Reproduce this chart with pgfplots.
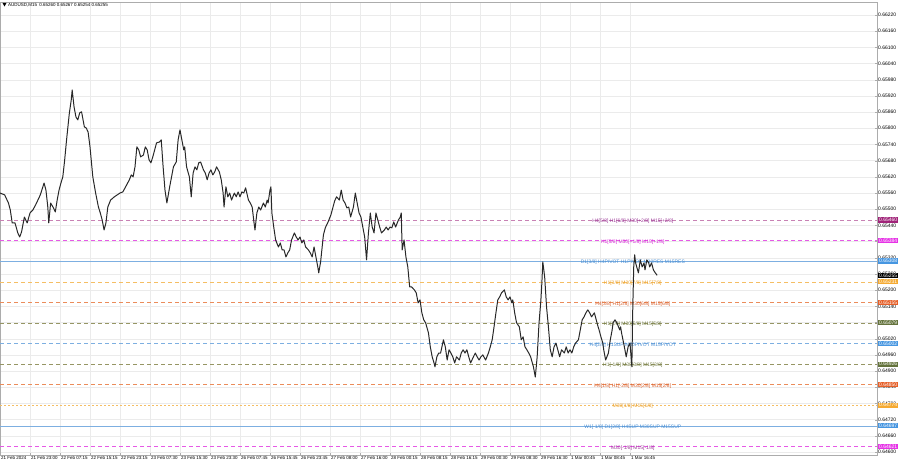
\documentclass[border=0pt]{standalone}
\usepackage{pgfplots}
\pgfplotsset{compat=1.18}
\usepackage{fontspec}
\setmainfont{Liberation Sans}

\definecolor{pricecol}{RGB}{40,40,40}
\definecolor{purpLine}{RGB}{200,130,180}
\definecolor{purpText}{RGB}{155,55,150}
\definecolor{purpBox}{RGB}{160,35,120}
\definecolor{magLine}{RGB}{230,90,230}
\definecolor{magText}{RGB}{215,40,215}
\definecolor{magBox}{RGB}{230,50,230}
\definecolor{bluLine}{RGB}{125,175,225}
\definecolor{bluText}{RGB}{70,140,210}
\definecolor{bluBox}{RGB}{70,150,225}
\definecolor{oraLine}{RGB}{245,190,100}
\definecolor{oraText}{RGB}{235,160,40}
\definecolor{oraBox}{RGB}{245,170,50}
\definecolor{redLine}{RGB}{235,140,90}
\definecolor{redText}{RGB}{215,95,45}
\definecolor{redBox}{RGB}{230,95,40}
\definecolor{oliLine}{RGB}{150,150,100}
\definecolor{oliText}{RGB}{110,120,60}
\definecolor{oliBox}{RGB}{100,115,60}

\newcommand{\lblfont}{\fontsize{5}{6}\selectfont}
\newcommand{\smlfont}{\fontsize{4.5}{5.5}\selectfont}

\begin{document}
\begin{tikzpicture}[x=1bp,y=1bp]
\begin{axis}[
  scale only axis, width=877bp, height=453bp,
  xmin=0, xmax=935.5, ymin=0.64589, ymax=0.66268,
  clip=false,
  axis line style={gray!65, line width=0.6pt},
  tick style={gray!65}, major tick length=2bp,
  xtick={0,32,...,672},
  xticklabels={21 Feb 2024, 21 Feb 23:00, 22 Feb 07:15, 22 Feb 15:15, 22 Feb 23:15, 23 Feb 07:30, 23 Feb 15:30, 23 Feb 23:30, 26 Feb 07:45, 26 Feb 15:45, 26 Feb 23:45, 27 Feb 08:00, 27 Feb 16:00, 28 Feb 00:15, 28 Feb 08:15, 28 Feb 16:15, 29 Feb 00:30, 29 Feb 08:30, 29 Feb 16:30, 1 Mar 00:45, 1 Mar 08:45, 1 Mar 16:45},
  xticklabel style={anchor=north west, font=\smlfont, inner sep=0.5bp, xshift=0.5bp, yshift=-1bp},
  xtick pos=bottom,
  ytick={0.64600,0.64660,0.64720,0.64780,0.64840,0.64900,0.64960,0.65020,0.65080,0.65140,0.65200,0.65260,0.65320,0.65380,0.65440,0.65500,0.65560,0.65620,0.65680,0.65740,0.65800,0.65860,0.65920,0.65980,0.66040,0.66100,0.66160,0.66220},
  ytick pos=right, yticklabel pos=right,
  scaled y ticks=false,
  yticklabel style={anchor=west, font=\lblfont, inner sep=0.5bp, xshift=0.5bp,
    /pgf/number format/.cd, fixed, fixed zerofill, precision=5, assume math mode=true},
  grid=major, major grid style={gray!16, line width=0.4pt},
]
\coordinate (bl) at (rel axis cs:0,0);

% Murrey math levels
\addplot[purpLine, line width=0.5pt, dash pattern=on 4bp off 3bp] coordinates {(0,0.65460) (935.5,0.65460)};
\addplot[magLine, line width=0.5pt, dash pattern=on 4bp off 3bp] coordinates {(0,0.65384) (935.5,0.65384)};
\addplot[bluLine, line width=0.6pt] coordinates {(0,0.65308) (935.5,0.65308)};
\addplot[oraLine, line width=0.5pt, dash pattern=on 4bp off 3bp] coordinates {(0,0.65231) (935.5,0.65231)};
\addplot[redLine, line width=0.5pt, dash pattern=on 4bp off 3bp] coordinates {(0,0.65155) (935.5,0.65155)};
\addplot[oliLine, line width=0.5pt, dash pattern=on 4bp off 3bp] coordinates {(0,0.65079) (935.5,0.65079)};
\addplot[bluLine, line width=0.5pt, dash pattern=on 4bp off 3bp] coordinates {(0,0.65002) (935.5,0.65002)};
\addplot[oliLine, line width=0.5pt, dash pattern=on 4bp off 3bp] coordinates {(0,0.64926) (935.5,0.64926)};
\addplot[redLine, line width=0.5pt, dash pattern=on 4bp off 3bp] coordinates {(0,0.64850) (935.5,0.64850)};
\addplot[oraLine, line width=0.5pt, dash pattern=on 2bp off 2bp] coordinates {(0,0.64774) (935.5,0.64774)};
\addplot[bluLine, line width=0.6pt] coordinates {(0,0.64697) (935.5,0.64697)};
\addplot[magLine, line width=0.5pt, dash pattern=on 4bp off 3bp] coordinates {(0,0.64621) (935.5,0.64621)};

\begin{scope}[every node/.style={font=\lblfont, inner sep=0pt, yshift=-1.5bp}]
\node[text=purpText] at (axis cs:675,0.65460) {H4[5/8] H1[6/8] M30[+2/8] M15[+2/8]};
\node[text=magText]  at (axis cs:675,0.65384) {H1[5/8] M30[+1/8] M15[+1/8]};
\node[text=bluText]  at (axis cs:675,0.65308) {D1[3/8] H4PIVOT H1PIVOT M30RES M15RES};
\node[text=oraText]  at (axis cs:675,0.65231) {H1[3/8] M30[7/8] M15[7/8]};
\node[text=redText]  at (axis cs:675,0.65155) {H4[3/8] H1[2/8] M30[6/8] M15[6/8]};
\node[text=oliText]  at (axis cs:675,0.65079) {H1[1/8] M30[5/8] M15[5/8]};
\node[text=bluText]  at (axis cs:675,0.65002) {H4[2/8] H1SUP M30PIVOT M15PIVOT};
\node[text=oliText]  at (axis cs:675,0.64926) {H1[-1/8] M30[3/8] M15[3/8]};
\node[text=redText]  at (axis cs:675,0.64850) {H4[1/8] H1[-2/8] M30[2/8] M15[2/8]};
\node[text=oraText]  at (axis cs:675,0.64774) {M30[1/8] M15[1/8]};
\node[text=bluText]  at (axis cs:675,0.64697) {W1[-1/8] D1[2/8] H4SUP M30SUP M15SUP};
\node[text=purpText] at (axis cs:675,0.64621) {M30[-1/8] M15[-1/8]};
\end{scope}

% AUDUSD M15 close path (bar index, price)
\addplot[pricecol, line width=1pt, line join=round] coordinates {
(0,0.65560)(5,0.65553)(9,0.65523)(11,0.65497)(13,0.65449)(16,0.65449)(19,0.65412)(21,0.65397)
(23,0.65416)(26,0.65471)(29,0.65449)(32,0.65486)(35,0.65497)(38,0.65516)(43,0.65553)(47,0.65597)
(49,0.65571)(51,0.65508)(52,0.65449)(54,0.65523)(57,0.65505)(59,0.65490)(61,0.65534)(63,0.65571)
(65,0.65597)(67,0.65620)(69,0.65683)(71,0.65757)(74,0.65857)(76,0.65905)(77,0.65942)(79,0.65879)
(81,0.65842)(83,0.65831)(85,0.65857)(87,0.65861)(90,0.65805)(92,0.65801)(94,0.65786)(96,0.65731)
(99,0.65620)(102,0.65560)(105,0.65508)(107,0.65486)(109,0.65460)(111,0.65423)(113,0.65449)(115,0.65508)
(118,0.65534)(122,0.65546)(125,0.65553)(128,0.65560)(131,0.65564)(134,0.65583)(138,0.65609)(140,0.65627)
(142,0.65620)(144,0.65657)(146,0.65731)(148,0.65720)(150,0.65694)(153,0.65701)(155,0.65731)(157,0.65720)
(159,0.65683)(161,0.65672)(163,0.65694)(165,0.65720)(167,0.65746)(170,0.65749)(172,0.65757)(174,0.65657)
(176,0.65571)(178,0.65523)(181,0.65583)(185,0.65657)(188,0.65675)(190,0.65757)(192,0.65794)(194,0.65757)
(196,0.65720)(197,0.65731)(199,0.65657)(202,0.65620)(204,0.65546)(206,0.65634)(208,0.65657)(210,0.65646)
(212,0.65672)(214,0.65675)(217,0.65646)(219,0.65634)(221,0.65609)(223,0.65634)(225,0.65646)(227,0.65627)
(229,0.65638)(231,0.65657)(234,0.65638)(236,0.65609)(238,0.65560)(239,0.65508)(241,0.65583)(243,0.65546)
(245,0.65560)(247,0.65534)(250,0.65560)(252,0.65546)(254,0.65564)(256,0.65546)(258,0.65564)(260,0.65560)
(262,0.65579)(265,0.65534)(267,0.65523)(269,0.65508)(271,0.65449)(272,0.65423)(274,0.65486)(276,0.65508)
(278,0.65497)(281,0.65523)(283,0.65508)(285,0.65534)(286,0.65523)(288,0.65571)(289,0.65583)(290,0.65486)
(292,0.65434)(294,0.65386)(297,0.65360)(299,0.65375)(301,0.65349)(303,0.65349)(305,0.65323)(307,0.65338)
(309,0.65349)(311,0.65386)(314,0.65412)(316,0.65397)(318,0.65386)(320,0.65397)(322,0.65375)(324,0.65386)
(326,0.65360)(329,0.65349)(331,0.65338)(333,0.65323)(335,0.65360)(337,0.65323)(339,0.65286)(340,0.65264)
(342,0.65305)(345,0.65405)(347,0.65431)(350,0.65453)(353,0.65479)(355,0.65505)(357,0.65531)(359,0.65546)
(362,0.65534)(364,0.65571)(366,0.65534)(368,0.65523)(370,0.65505)(372,0.65508)(374,0.65471)(377,0.65508)
(379,0.65560)(381,0.65523)(383,0.65486)(385,0.65471)(387,0.65434)(389,0.65397)(391,0.65312)(393,0.65412)
(395,0.65486)(397,0.65434)(399,0.65412)(401,0.65486)(403,0.65460)(405,0.65434)(407,0.65412)(410,0.65423)
(412,0.65434)(414,0.65423)(416,0.65434)(418,0.65431)(420,0.65453)(422,0.65434)(425,0.65460)(427,0.65471)
(428,0.65486)(429,0.65349)(431,0.65386)(433,0.65323)(435,0.65286)(437,0.65212)(439,0.65212)(442,0.65201)
(444,0.65190)(446,0.65153)(448,0.65164)(450,0.65116)(452,0.65090)(454,0.65079)(457,0.65042)(459,0.64990)
(461,0.64953)(463,0.64930)(464,0.64916)(466,0.64953)(468,0.64967)(470,0.64967)(473,0.65016)(475,0.64990)
(477,0.64941)(479,0.64979)(481,0.64967)(483,0.64953)(485,0.64930)(487,0.64953)(490,0.64941)(492,0.64967)
(494,0.64979)(496,0.64967)(498,0.64979)(500,0.64953)(502,0.64930)(505,0.64953)(507,0.64967)(509,0.64953)
(511,0.64941)(513,0.64953)(515,0.64960)(518,0.64941)(521,0.64967)(523,0.64990)(525,0.65016)(527,0.65064)
(529,0.65116)(531,0.65164)(533,0.65175)(535,0.65190)(538,0.65201)(540,0.65175)(542,0.65164)(544,0.65175)
(546,0.65153)(547,0.65164)(549,0.65116)(551,0.65079)(554,0.65064)(556,0.65016)(558,0.65027)(560,0.64990)
(562,0.64979)(564,0.64967)(566,0.64953)(569,0.64916)(571,0.64878)(573,0.64953)(575,0.65079)(577,0.65164)
(578,0.65227)(579,0.65305)(581,0.65249)(583,0.65138)(585,0.65064)(587,0.64979)(589,0.64953)(591,0.64990)
(593,0.65004)(595,0.64979)(597,0.64953)(599,0.64979)(602,0.64967)(604,0.64990)(606,0.64967)(608,0.64979)
(610,0.64967)(612,0.64990)(614,0.65004)(617,0.65016)(619,0.65053)(621,0.65090)(623,0.65101)(625,0.65116)
(627,0.65127)(629,0.65116)(631,0.65101)(634,0.65116)(636,0.65090)(638,0.65064)(639,0.65053)(641,0.65027)
(643,0.65004)(644,0.64979)(646,0.64941)(649,0.64967)(651,0.65016)(653,0.65053)(654,0.65079)(656,0.65090)
(658,0.65079)(661,0.65053)(662,0.65064)(663,0.65042)(666,0.64990)(668,0.64953)(670,0.64990)(672,0.65004)
(674,0.64916)(675,0.65138)(676,0.65286)(677,0.65331)(678,0.65301)(681,0.65264)(683,0.65312)(685,0.65286)
(687,0.65301)(688,0.65275)(690,0.65312)(692,0.65301)(693,0.65286)(695,0.65301)(697,0.65275)(699,0.65264)
(701,0.65255)
};

% price boxes on the right scale
\begin{scope}[every node/.style={font=\lblfont, text=white, anchor=west, inner xsep=1bp, inner ysep=0.8bp, xshift=1bp}]
\node[fill=purpBox] at (axis cs:935.5,0.65460) {0.65460};
\node[fill=magBox]  at (axis cs:935.5,0.65384) {0.65384};
\node[fill=bluBox]  at (axis cs:935.5,0.65308) {0.65308};
\node[fill=black]   at (axis cs:935.5,0.65255) {0.65255};
\node[fill=oraBox]  at (axis cs:935.5,0.65231) {0.65231};
\node[fill=redBox]  at (axis cs:935.5,0.65155) {0.65155};
\node[fill=oliBox]  at (axis cs:935.5,0.65079) {0.65079};
\node[fill=bluBox]  at (axis cs:935.5,0.65002) {0.65002};
\node[fill=oliBox]  at (axis cs:935.5,0.64926) {0.64926};
\node[fill=redBox]  at (axis cs:935.5,0.64850) {0.64850};
\node[fill=oraBox]  at (axis cs:935.5,0.64774) {0.64774};
\node[fill=bluBox]  at (axis cs:935.5,0.64697) {0.64697};
\node[fill=magBox]  at (axis cs:935.5,0.64621) {0.64621};
\end{scope}
\end{axis}

% symbol header, placed from the lower left corner of the plot box
\begin{scope}[shift={(bl)}]
\fill[black] (2.5,452) -- (6.5,452) -- (4.5,448.5) -- cycle;
\node[anchor=west, font=\smlfont, inner sep=0pt] at (8,450) {AUDUSD,M15\enspace 0.65260 0.65267 0.65254 0.65255};
\end{scope}

\pgfresetboundingbox
\path ([yshift=-13bp]bl) rectangle ([xshift=900bp,yshift=455bp]bl);
\end{tikzpicture}
\end{document}
